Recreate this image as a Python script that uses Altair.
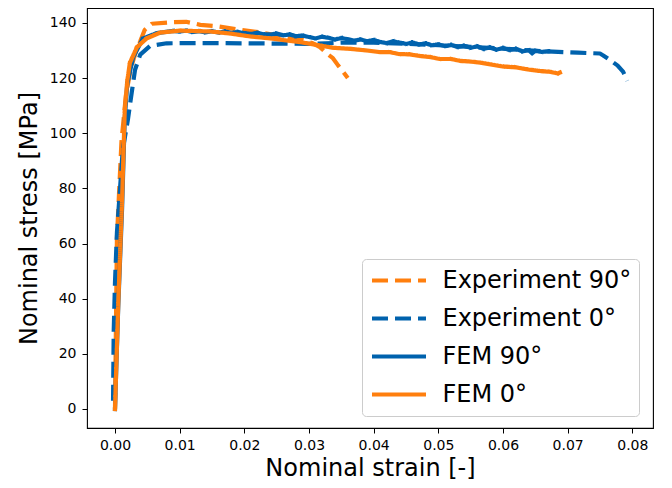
import altair as alt
import pandas as pd

# ---- data ----
series_names = ["Experiment 90°", "Experiment 0°", "FEM 90°", "FEM 0°"]

exp90_strain = [0.0, 0.0003, 0.0010, 0.0017, 0.0025, 0.0033, 0.0039, 0.0046, 0.0057,
                0.0085, 0.0110, 0.0132, 0.0158, 0.0188, 0.0224, 0.0255, 0.0280,
                0.0306, 0.0317, 0.0328, 0.0337, 0.0345, 0.0352, 0.0360]
exp90_stress = [0.0, 62.0, 97.0, 114.0, 124.0, 130.0, 133.3, 137.5, 139.7,
                140.2, 140.4, 139.3, 138.8, 137.7, 136.6, 135.3, 134.5,
                132.6, 131.2, 128.8, 127.2, 124.6, 122.5, 120.0]

exp0_strain = [-0.0003, -0.0002, 0.0, 0.0003, 0.0012, 0.0020, 0.0026, 0.0031, 0.0039,
               0.0054, 0.0080, 0.0130, 0.0200, 0.0300, 0.0350, 0.0400, 0.0450,
               0.0500, 0.0550, 0.0600, 0.0662, 0.0716, 0.0750, 0.0755, 0.0765,
               0.0777, 0.0786, 0.0792]
exp0_stress = [3.0, 28.0, 46.0, 64.0, 94.0, 105.0, 115.0, 123.0, 128.5,
               131.6, 132.6, 132.7, 132.6, 132.4, 132.8, 132.8, 132.4,
               131.9, 131.3, 130.7, 129.7, 129.2, 128.9, 128.2, 126.6,
               124.6, 122.2, 119.0]

fem90_strain = [0.0, 0.0005, 0.0011, 0.0015, 0.0019, 0.0028, 0.0043, 0.0065, 0.0080,
                0.0090, 0.0100, 0.0110, 0.0120, 0.0130, 0.0140, 0.0150, 0.0160,
                0.0170, 0.0180, 0.0190, 0.0200, 0.0210, 0.0220, 0.0230, 0.0240,
                0.0250, 0.0260, 0.0270, 0.0280, 0.0290, 0.0300, 0.0310, 0.0320,
                0.0330, 0.0340, 0.0350, 0.0360, 0.0370, 0.0380, 0.0390, 0.0400,
                0.0410, 0.0420, 0.0430, 0.0440, 0.0450, 0.0460, 0.0470, 0.0480,
                0.0490, 0.0500, 0.0510, 0.0520, 0.0530, 0.0540, 0.0550, 0.0560,
                0.0570, 0.0580, 0.0590, 0.0600, 0.0610, 0.0620, 0.0630, 0.0640,
                0.0645, 0.0650, 0.0660, 0.0670]
fem90_stress = [0.0, 37.0, 73.0, 105.0, 118.0, 127.5, 134.3, 136.3, 136.8,
                137.1, 136.9, 137.2, 136.7, 137.0, 136.6, 137.0, 136.5,
                136.9, 136.4, 136.7, 136.3, 136.0, 136.4, 135.9, 135.8,
                136.1, 135.5, 135.8, 135.2, 135.4, 134.9, 134.4, 135.0,
                134.6, 134.0, 134.5, 134.1, 133.6, 134.0, 133.4, 133.8,
                133.1, 132.7, 133.3, 132.9, 132.4, 132.9, 132.2, 132.6,
                131.9, 132.2, 131.6, 132.0, 131.3, 131.7, 131.0, 131.5,
                130.6, 131.1, 130.3, 130.9, 130.2, 130.6, 129.7, 130.1,
                129.0, 129.9, 129.5, 129.7]

fem0_strain = [0.0, 0.0005, 0.0011, 0.0015, 0.0019, 0.0023, 0.0034, 0.0049, 0.0070,
               0.0100, 0.0147, 0.0180, 0.0209, 0.0240, 0.0260, 0.0290, 0.0313,
               0.0337, 0.0364, 0.0390, 0.0410, 0.0425, 0.0440, 0.0456, 0.0472,
               0.0488, 0.0503, 0.0520, 0.0535, 0.0549, 0.0565, 0.0580, 0.0600,
               0.0620, 0.0642, 0.0660, 0.0672, 0.0685, 0.0688]
fem0_stress = [0.0, 38.0, 76.0, 108.0, 119.0, 125.5, 131.2, 134.4, 136.5,
               137.2, 136.9, 136.1, 135.1, 134.4, 133.8, 132.9, 132.0,
               131.0, 130.6, 130.0, 129.4, 129.4, 128.7, 128.6, 128.0,
               127.6, 126.9, 126.9, 126.2, 126.0, 125.6, 125.0, 124.2,
               123.9, 123.0, 122.5, 122.3, 121.7, 122.0]

x_ticks = [0.0, 0.01, 0.02, 0.03, 0.04, 0.05, 0.06, 0.07, 0.08]
y_ticks = [0, 20, 40, 60, 80, 100, 120, 140]

ORANGE = "#ff7f0e"
BLUE = "#0062ad"

rows = []
for name, xs, ys in [
    (series_names[0], exp90_strain, exp90_stress),
    (series_names[1], exp0_strain, exp0_stress),
    (series_names[2], fem90_strain, fem90_stress),
    (series_names[3], fem0_strain, fem0_stress),
]:
    for i, (xv, yv) in enumerate(zip(xs, ys)):
        rows.append({"series": name, "strain": xv, "stress": yv, "idx": i})
df = pd.DataFrame(rows)

FONT = "DejaVu Sans"

color_scale = alt.Scale(domain=series_names, range=[ORANGE, BLUE, BLUE, ORANGE])
dash_scale = alt.Scale(domain=series_names, range=[[16, 7], [16, 7], [1, 0], [1, 0]])

legend = alt.Legend(
    title=None,
    orient="none",
    legendX=275,
    legendY=251,
    symbolType="stroke",
    symbolSize=2916,
    symbolStrokeWidth=4.2,
    labelFont=FONT,
    labelFontSize=24,
    labelColor="black",
    labelOffset=14,
    labelLimit=400,
    clipHeight=28,
    rowPadding=10,
    padding=7.5,
    strokeColor="#cccccc",
    fillColor="white",
    cornerRadius=4,
)

x_enc = alt.X(
    "strain:Q",
    scale=alt.Scale(domain=[-0.00433, 0.0832], nice=False, zero=False),
    axis=alt.Axis(
        values=x_ticks, format=".2f", title="Nominal strain [-]", grid=False,
        domain=False, tickColor="black", tickSize=5, tickWidth=1,
        labelFont=FONT, labelFontSize=14, labelColor="black", labelPadding=5,
        titleFont=FONT, titleFontSize=24, titleFontWeight="normal",
        titleColor="black", titlePadding=4,
    ),
)
y_enc = alt.Y(
    "stress:Q",
    scale=alt.Scale(domain=[-6.9, 145.4], nice=False, zero=False),
    axis=alt.Axis(
        values=y_ticks, format="d", title="Nominal stress [MPa]", grid=False,
        domain=False, tickColor="black", tickSize=5, tickWidth=1,
        labelFont=FONT, labelFontSize=14, labelColor="black", labelPadding=6,
        titleFont=FONT, titleFontSize=24, titleFontWeight="normal",
        titleColor="black", titlePadding=8,
    ),
)

layers = []
for i, name in enumerate(series_names):
    cap = "butt" if i < 2 else "square"
    layer = (
        alt.Chart(df)
        .transform_filter(alt.datum.series == name)
        .mark_line(strokeWidth=4.2, strokeCap=cap, strokeJoin="round")
        .encode(
            x=x_enc,
            y=y_enc,
            order=alt.Order("idx:Q"),
            color=alt.Color("series:N", scale=color_scale, legend=legend),
            strokeDash=alt.StrokeDash("series:N", scale=dash_scale, legend=legend),
        )
    )
    layers.append(layer)

chart = (
    alt.layer(*layers)
    .properties(
        width=566,
        height=420,
        autosize=alt.AutoSizeParams(type="none"),
        padding={"left": 79, "top": 0, "right": 8, "bottom": 52},
        background="white",
    )
    .configure_view(stroke="black", strokeWidth=1.1)
)

chart.save("out.html", embed_options={"renderer": "svg", "actions": False})
